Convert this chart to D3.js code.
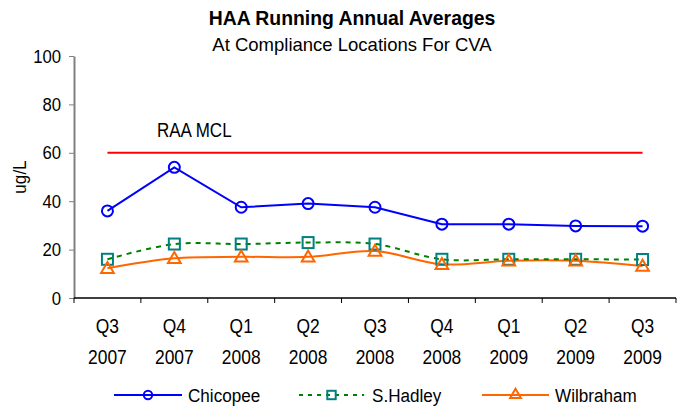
<!DOCTYPE html>
<html><head><meta charset="utf-8">
<script src="https://cdn.jsdelivr.net/npm/d3@7"></script>
<style>body{margin:0;background:#fff}svg{display:block;font-family:"Liberation Sans",Arial,sans-serif}</style>
</head><body><svg id="c" width="686" height="407"></svg>
<script>
const quarters = ["Q3","Q4","Q1","Q2","Q3","Q4","Q1","Q2","Q3"];
const years = ["2007","2007","2008","2008","2008","2008","2009","2009","2009"];
const categories = quarters.map((q,i)=>q+" "+years[i]);
const chicopee = [36, 54, 37.5, 39, 37.5, 30.5, 30.5, 29.8, 29.7];
const sHadley = [16, 22.3, 22.3, 22.9, 22.3, 16, 16, 16, 15.9];
const wilbraham = [12.3, 16.4, 17, 17, 19.4, 13.9, 15.4, 15.4, 13.2];
const mclValue = 60;
const yTicks = [0,20,40,60,80,100];

const svg = d3.select("#c");
const x = d3.scaleBand().domain(categories).range([74,676]);
const y = d3.scaleLinear().domain([0,100]).range([298,56]);
const cx = c => x(c)+x.bandwidth()/2;

function txt(px, py, s, size, anchor, sx, bold){
  return svg.append("text").attr("transform",`translate(${px},${py}) scale(${sx},1)`)
    .attr("text-anchor",anchor||"start").attr("font-size",size)
    .attr("font-weight",bold?"bold":"normal").attr("fill","#000").text(s);
}

// titles
txt(352,25,"HAA Running Annual Averages",20.5,"middle",0.945,true);
txt(352,51,"At Compliance Locations For CVA",18.5,"middle",1.0,false);

// y axis
const yAxis = svg.append("g").attr("transform","translate(74,0)")
  .call(d3.axisLeft(y).tickValues(yTicks).tickSize(5).tickSizeOuter(0).tickFormat(""));
yAxis.select(".domain").attr("stroke","#808080").attr("stroke-width",2);
yAxis.selectAll(".tick line").attr("stroke","#808080");
yTicks.forEach(t=>txt(61,y(t)+6.5,String(t),19,"end",0.88,false));
svg.append("text").attr("transform","translate(26,177) rotate(-90) scale(0.9,1)").attr("text-anchor","middle")
  .attr("font-size",19).text("ug/L");

// x axis
const xg = svg.append("g").attr("transform","translate(0,298)");
xg.append("line").attr("x1",74).attr("x2",676).attr("stroke","#000").attr("stroke-width",1.5);
const bounds = categories.map(c=>x(c)).concat([x.range()[1]]);
xg.selectAll("line.tk").data(bounds).enter().append("line").attr("class","tk")
  .attr("x1",d=>d).attr("x2",d=>d).attr("y1",0).attr("y2",5).attr("stroke","#000");
categories.forEach((c,i)=>{
  txt(cx(c),333,quarters[i],20,"middle",0.87,false);
  txt(cx(c),364,years[i],20,"middle",0.87,false);
});

// MCL line
svg.append("line").attr("x1",cx(categories[0])).attr("x2",cx(categories[categories.length-1]))
  .attr("y1",y(mclValue)).attr("y2",y(mclValue)).attr("stroke","#FF0000").attr("stroke-width",2);
txt(157,137,"RAA MCL",20,"start",0.85,false);

const pts = arr => arr.map((v,i)=>[cx(categories[i]),y(v)]);
const straight = d3.line();
const smooth = d3.line().curve(d3.curveCatmullRom.alpha(0.5));

svg.append("path").attr("d",smooth(pts(wilbraham))).attr("fill","none").attr("stroke","#FF6600").attr("stroke-width",2);
svg.append("path").attr("d",smooth(pts(sHadley))).attr("fill","none").attr("stroke","#008000").attr("stroke-width",2).attr("stroke-dasharray","5,5");
svg.append("path").attr("d",straight(pts(chicopee))).attr("fill","none").attr("stroke","#0000FF").attr("stroke-width",2);

const tri = d3.symbol().type(d3.symbolTriangle).size(70);
function circ(px,py,r){svg.append("circle").attr("cx",px).attr("cy",py).attr("r",r).attr("fill","none").attr("stroke","#0000FF").attr("stroke-width",2);}
function sq(px,py,h){svg.append("rect").attr("x",px-h).attr("y",py-h).attr("width",2*h).attr("height",2*h).attr("fill","none").attr("stroke","#008080").attr("stroke-width",2);}
function tr(px,py,s){svg.append("path").attr("d",d3.symbol().type(d3.symbolTriangle).size(s)()).attr("transform",`translate(${px},${py+1})`).attr("fill","none").attr("stroke","#FF6600").attr("stroke-width",2);}

pts(sHadley).forEach(p=>sq(p[0],p[1],5.5));
pts(wilbraham).forEach(p=>tr(p[0],p[1],70));
pts(chicopee).forEach(p=>circ(p[0],p[1],5.5));

// legend
const ly = 395;
const leg = [
  {name:"Chicopee", x1:114, x2:182, tx:188, color:"#0000FF", dash:null, mk:"c"},
  {name:"S.Hadley", x1:299, x2:364, tx:372, color:"#008000", dash:"4,5", mk:"s"},
  {name:"Wilbraham", x1:482, x2:549, tx:555, color:"#FF6600", dash:null, mk:"t"}
];
leg.forEach(l=>{
  svg.append("line").attr("x1",l.x1).attr("x2",l.x2).attr("y1",ly).attr("y2",ly).attr("stroke",l.color).attr("stroke-width",2).attr("stroke-dasharray",l.dash);
  const mx=(l.x1+l.x2)/2;
  if(l.mk==="c") circ(mx,ly,4.2);
  else if(l.mk==="s") sq(mx,ly,4.2);
  else tr(mx,ly-1,50);
  txt(l.tx,401.5,l.name,19,"start",0.9,false);
});
</script></body></html>
